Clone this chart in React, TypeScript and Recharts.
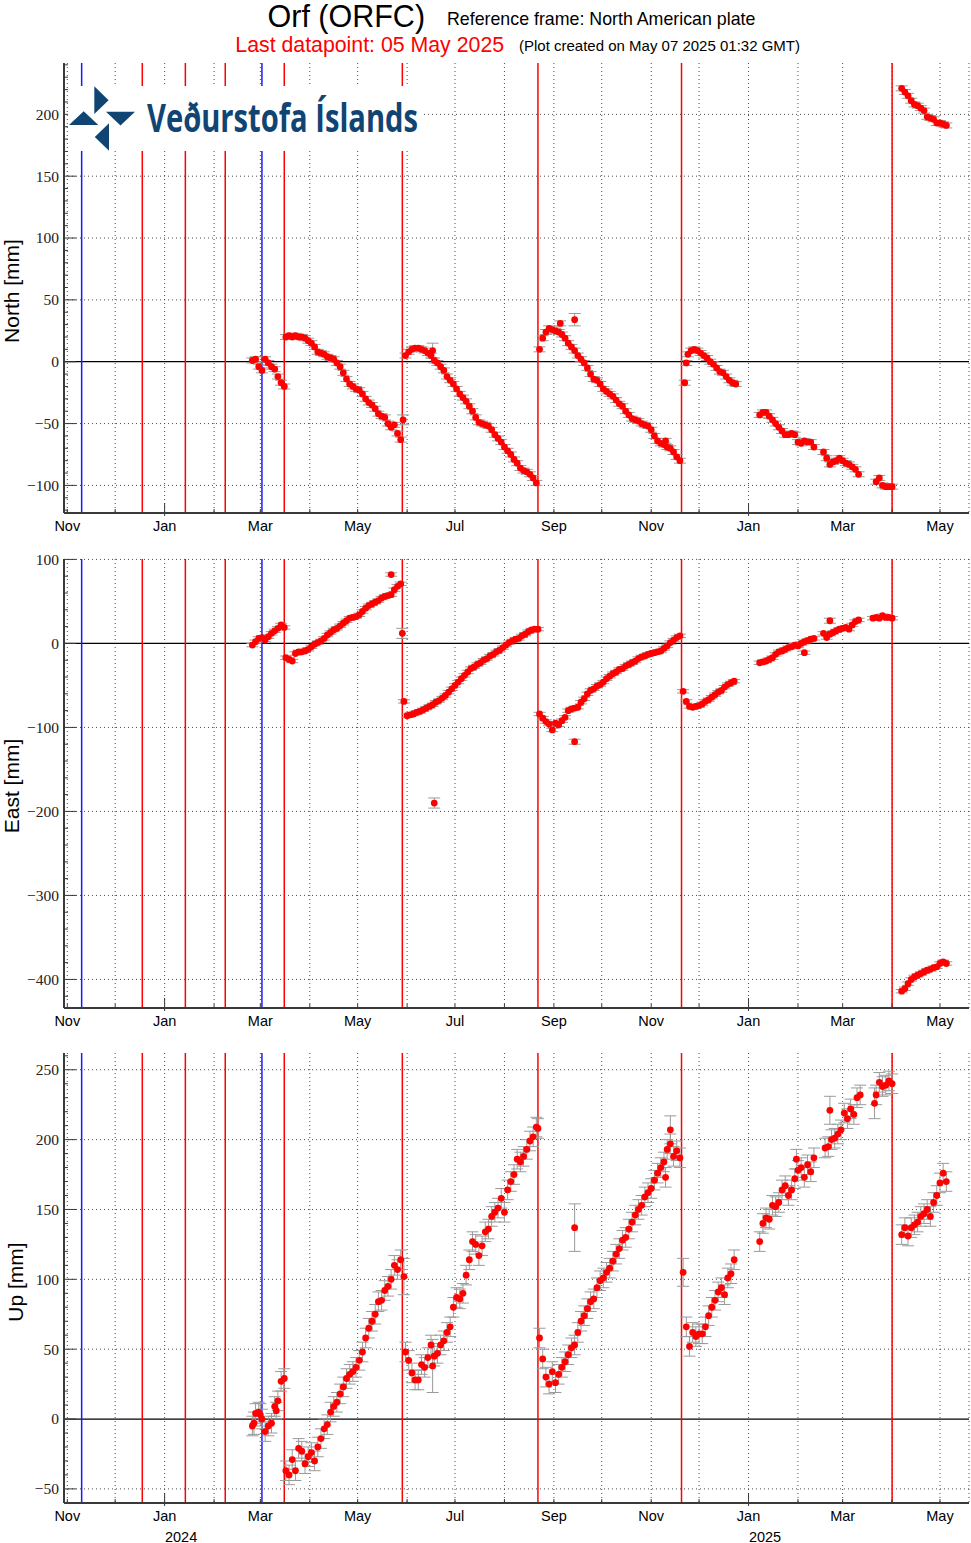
import React from 'react';
import {
  ScatterChart,
  Scatter,
  XAxis,
  YAxis,
  CartesianGrid,
  ReferenceLine,
  ErrorBar,
} from 'recharts';

// x values are days since 2023-11-01
type Segment = { start: number; step: number; err: number; values: number[] };
type Single = [number, number, number]; // day, value, error
type Point = { d: number; v: number; e: number };

const ORIGIN = Date.UTC(2023, 10, 1);
const toDay = (iso: string) => {
  const [y, m, d] = iso.split('-').map(Number);
  return (Date.UTC(y, m - 1, d) - ORIGIN) / 86400000;
};

const X_DOMAIN: [number, number] = [-2.07, 565.2];

const MONTH_TICKS = [
  '2023-11-01', '2023-12-01', '2024-01-01', '2024-02-01', '2024-03-01', '2024-04-01',
  '2024-05-01', '2024-06-01', '2024-07-01', '2024-08-01', '2024-09-01', '2024-10-01',
  '2024-11-01', '2024-12-01', '2025-01-01', '2025-02-01', '2025-03-01', '2025-04-01',
  '2025-05-01',
];
const MONTH_LABELS = [
  'Nov', '', 'Jan', '', 'Mar', '', 'May', '', 'Jul', '', 'Sep', '', 'Nov', '', 'Jan', '', 'Mar', '', 'May',
];
const YEAR_LABELS: Record<string, string> = { '2024-01-01': '2024', '2025-01-01': '2025' };

const ERUPTIONS = [
  '2023-12-18', '2024-01-14', '2024-02-08', '2024-03-16',
  '2024-05-29', '2024-08-22', '2024-11-20', '2025-04-01',
];
const INTRUSIONS = ['2023-11-10', '2024-03-02'];

// ---- North ----
const NORTH_SEGMENTS: Segment[] = [
  { start: 116, step: 2, err: 2, values: [1, 2, -4, -7, 2, -1, -4, -6, -12, -17, -20] },
  {
    start: 137, step: 2, err: 2,
    values: [20, 21, 20, 21, 20, 20, 19, 17, 15, 12, 8, 7, 6, 4, 3, 2, -1, -4, -9, -14,
      -18, -20, -22, -23, -26, -30, -33, -35, -38, -42, -44, -45, -50, -53, -51, -58, -63],
  },
  {
    start: 212, step: 2, err: 2,
    values: [5, 8, 10, 11, 11, 10, 9, 7, 5, 1, -1, -4, -7, -12, -15, -18, -22, -26, -29, -32,
      -36, -40, -45, -49, -50, -51, -52, -55, -59, -62, -65, -69, -72, -75, -79, -82, -86, -88,
      -89, -91, -94, -98],
  },
  {
    start: 296, step: 2, err: 2,
    values: [10, 19, 24, 27, 26, 25, 24, 22, 19, 15, 12, 9, 5, 2, -1, -5, -10, -14, -15, -18,
      -22, -24, -26, -28, -31, -34, -36, -40, -43, -46, -47, -48, -50, -51, -52, -55, -60, -64,
      -66, -67, -69, -70, -73, -77, -80],
  },
  { start: 389, step: 2, err: 2, values: [6, 9, 10, 9, 7, 5, 3, 0, -2, -5, -8, -9, -12, -15, -17, -18] },
  {
    start: 434, step: 2, err: 2,
    values: [-43, -41, -41, -44, -47, -50, -53, -56, -59, -59, -58, -59, -65, -66, -64, -65, -65, -69],
  },
  { start: 474, step: 2, err: 2, values: [-73, -78, -83, -81, -80, -78, -80, -82, -83, -85, -87, -91] },
  { start: 507, step: 2, err: 2, values: [-97, -94, -100, -101, -101, -101] },
  { start: 523, step: 2, err: 2, values: [221, 218, 215, 211, 208, 207, 205, 203, 198, 197, 196, 193, 193, 192, 191] },
];
const NORTH_SINGLES: Single[] = [
  [210.5, -47, 4], [229, 9, 6], [309, 31, 2], [318, 34, 5], [375, -64, 2], [387, -17, 2], [388, -1, 2],
];
const NORTH_MAJOR = [-100, -50, 0, 50, 100, 150, 200];
const NORTH_TICKS = [
  -120, -110, -100, -90, -80, -70, -60, -50, -40, -30, -20, -10, 0, 10, 20, 30, 40, 50, 60, 70,
  80, 90, 100, 110, 120, 130, 140, 150, 160, 170, 180, 190, 200, 210, 220, 230, 240,
];

// ---- East ----
const EAST_SEGMENTS: Segment[] = [
  { start: 116, step: 2, err: 2, values: [-2, 2, 6, 7, 4, 8, 12, 15, 18, 22, 19] },
  {
    start: 137, step: 2, err: 2,
    values: [-17, -19, -21, -12, -10, -10, -9, -7, -4, -1, 1, 3, 6, 10, 13, 16, 18, 21, 24, 27,
      30, 31, 32, 34, 38, 42, 45, 47, 49, 51, 54, 56, 57, 58, 64, 68, 71],
  },
  {
    start: 213, step: 2, err: 2,
    values: [-86, -85, -84, -82, -81, -79, -77, -75, -73, -70, -68, -65, -62, -58, -54, -50, -46,
      -42, -38, -34, -30, -28, -25, -23, -20, -18, -15, -13, -10, -8, -5, -2, 1, 3, 5, 6, 9, 11,
      14, 16, 17, 17],
  },
  {
    start: 296, step: 2, err: 2,
    values: [-84, -89, -93, -96, -103, -95, -97, -92, -88, -80, -78, -77, -76, -70, -66, -60, -56,
      -54, -51, -49, -46, -42, -39, -36, -34, -31, -30, -27, -25, -23, -21, -18, -16, -15, -13,
      -12, -11, -10, -9, -6, -3, 1, 4, 7, 9],
  },
  { start: 390, step: 2, err: 2, values: [-75, -76, -75, -74, -72, -69, -67, -64, -61, -58, -56, -52, -49, -47, -45] },
  { start: 434, step: 2, err: 2, values: [-23, -22, -21, -19, -17, -13, -10, -9, -7, -5, -4, -2, -3, 0, 2, 3, 5, 6] },
  { start: 474, step: 2, err: 2, values: [12, 7, 11, 13, 15, 17, 18, 19, 17, 22, 26, 28] },
  { start: 505, step: 2, err: 2, values: [30, 31, 30, 33, 31, 31, 30] },
  {
    start: 523, step: 2, err: 2,
    values: [-414, -411, -405, -400, -397, -395, -393, -391, -389, -388, -386, -385, -381, -379, -381],
  },
];
const EAST_SINGLES: Single[] = [
  [203, 82, 2], [210, 12, 6], [211, -69, 2], [230, -190, 6], [318, -117, 3],
  [386, -57, 2], [388, -69, 2], [462, -11, 2], [478, 27, 3],
];
const EAST_MAJOR = [-400, -300, -200, -100, 0, 100];
const EAST_TICKS = [
  -420, -400, -380, -360, -340, -320, -300, -280, -260, -240, -220, -200, -180, -160, -140,
  -120, -100, -80, -60, -40, -20, 0, 20, 40, 60, 80, 100,
];

// ---- Up ----
const UP_SEGMENTS: Segment[] = [
  { start: 116, step: 2, err: 7, values: [-5, 4, 5, 0, -9, -5, -3, 9, 13, 27, 29] },
  {
    start: 137, step: 2, err: 7,
    values: [-37, -40, -29, -37, -21, -23, -32, -27, -24, -30, -20, -14, -7, -4, 5, 9, 12, 18, 23,
      29, 32, 34, 37, 42, 48, 58, 65, 70, 75, 84, 85, 92, 95, 100, 110, 107, 114],
  },
  { start: 212, step: 2, err: 7, values: [48, 42, 33, 28, 28, 39, 37, 44, 53, 45, 47, 53, 56, 62] },
  {
    start: 240, step: 2, err: 7,
    values: [66, 80, 87, 86, 90, 103, 114, 127, 125, 117, 124, 134, 136, 145, 148, 151, 158, 148,
      164, 170, 175, 186, 184, 188, 193, 199, 202, 209],
  },
  {
    start: 296, step: 2, err: 7,
    values: [58, 43, 30, 25, 34, 26, 32, 37, 41, 46, 51, 53, 62, 70, 74, 79, 84, 86, 94, 99, 101,
      105, 108, 113, 118, 122, 128, 130, 136, 141, 146, 150, 153, 159, 162, 165, 171, 176, 180,
      184, 193, 197, 188, 192, 187],
  },
  { start: 388, step: 2, err: 7, values: [66, 52, 62, 59, 61, 61, 66, 74, 80, 85, 91, 94, 89, 101, 104, 114] },
  {
    start: 434, step: 2, err: 7,
    values: [127, 140, 144, 143, 153, 152, 155, 164, 167, 160, 164, 172, 178, 180, 173, 182, 177, 187],
  },
  { start: 475, step: 2, err: 7, values: [194, 195, 200, 201, 204, 207, 219, 215, 222, 218, 230, 232] },
  { start: 507, step: 2, err: 7, values: [232, 241, 238, 239, 242, 240] },
  { start: 523, step: 2, err: 7, values: [132, 137, 131, 137, 139, 141, 145, 147, 150, 145, 155, 160, 169, 176, 170] },
];
const UP_SINGLES: Single[] = [
  [117, -3, 8], [121, 3, 8], [131, 6, 6], [211, 102, 13], [229, 38, 19], [295, 208, 7],
  [318, 137, 17], [375, 173, 7], [378, 207, 10], [386, 105, 10], [457, 186, 7], [478, 221, 10],
  [506, 226, 11],
];
const UP_MAJOR = [-50, 0, 50, 100, 150, 200, 250];
const UP_TICKS = [
  -60, -50, -40, -30, -20, -10, 0, 10, 20, 30, 40, 50, 60, 70, 80, 90, 100, 110, 120, 130, 140,
  150, 160, 170, 180, 190, 200, 210, 220, 230, 240, 250, 260,
];

const buildSeries = (segments: Segment[], singles: Single[]): Point[] => {
  const pts: Point[] = [];
  segments.forEach((s) => s.values.forEach((v, i) => pts.push({ d: s.start + i * s.step, v, e: s.err })));
  singles.forEach(([d, v, e]) => pts.push({ d, v, e }));
  return pts.sort((a, b) => a.d - b.d);
};

const FRAME = '#3a3a3a';
const GRID = '#4a4a4a';
const SANS = '"Liberation Sans", Arial, Helvetica, sans-serif';
const SERIF = '"Liberation Serif", "Times New Roman", serif';
const MONTH_DAYS = MONTH_TICKS.map(toDay);

const fmt = (v: number) => (v < 0 ? `\u2212${Math.abs(v)}` : String(v));

function LeftTick(props: any) {
  const { x, y, payload, majors } = props;
  const major = majors.includes(payload.value);
  return (
    <g>
      <line x1={x} x2={x + (major ? 12 : 4)} y1={y} y2={y} stroke={FRAME} strokeWidth={1} />
      {major && (
        <text x={x - 5} y={y} dy="0.35em" textAnchor="end" fontFamily={SERIF} fontSize={15.5} fill="#222">
          {fmt(payload.value)}
        </text>
      )}
    </g>
  );
}

function RightTick(props: any) {
  const { x, y, payload, majors } = props;
  const major = majors.includes(payload.value);
  return <line x1={x - (major ? 12 : 4)} x2={x} y1={y} y2={y} stroke={FRAME} strokeWidth={1} />;
}

function BottomTick(props: any) {
  const { x, y, payload, withYear } = props;
  const i = MONTH_DAYS.indexOf(payload.value);
  const iso = MONTH_TICKS[i];
  const isJan = iso.endsWith('-01-01');
  return (
    <g>
      <line x1={x} x2={x} y1={y + (isJan ? 3 : 0)} y2={y - (isJan ? 10 : 4)} stroke={FRAME} strokeWidth={1} />
      {MONTH_LABELS[i] && (
        <text x={x} y={y + 18} textAnchor="middle" fontFamily={SANS} fontSize={14.5} fill="#000">
          {MONTH_LABELS[i]}
        </text>
      )}
      {withYear && YEAR_LABELS[iso] && (
        <text x={x + 16.5} y={y + 38.5} textAnchor="middle" fontFamily={SANS} fontSize={14.5} fill="#000">
          {YEAR_LABELS[iso]}
        </text>
      )}
    </g>
  );
}

function TopTick(props: any) {
  const { x, y, payload } = props;
  const i = MONTH_DAYS.indexOf(payload.value);
  const isJan = MONTH_TICKS[i].endsWith('-01-01');
  return <line x1={x} x2={x} y1={y - (isJan ? 10 : 0)} y2={y + (isJan ? 3 : 4)} stroke={FRAME} strokeWidth={1} />;
}

const renderDot = (p: any) => <circle cx={p.cx} cy={p.cy} r={3.4} fill="#ff0000" />;

type PanelProps = {
  top: number;
  height: number;
  marginTop: number;
  xAxisHeight: number;
  domain: [number, number];
  majors: number[];
  ticks: number[];
  data: Point[];
  topFrame?: boolean;
  withYear?: boolean;
};

function Panel({ top, height, marginTop, xAxisHeight, domain, majors, ticks, data, topFrame, withYear }: PanelProps) {
  return (
    <div style={{ position: 'absolute', left: 0, top, width: 971, height }}>
      <ScatterChart width={971} height={height} margin={{ top: marginTop, right: 2, bottom: 0, left: 0 }}>
        <CartesianGrid horizontal={false} stroke={GRID} strokeDasharray="1 3" />
        <XAxis
          dataKey="d"
          type="number"
          domain={X_DOMAIN}
          allowDataOverflow
          ticks={MONTH_DAYS}
          interval={0}
          height={xAxisHeight}
          tickSize={0}
          tickMargin={0}
          tickLine={false}
          axisLine={{ stroke: FRAME, strokeWidth: 2 }}
          tick={<BottomTick withYear={withYear} />}
        />
        {topFrame && (
          <XAxis
            xAxisId="top"
            orientation="top"
            type="number"
            domain={X_DOMAIN}
            allowDataOverflow
            ticks={MONTH_DAYS}
            interval={0}
            height={0}
            tickSize={0}
            tickMargin={0}
            tickLine={false}
            axisLine={{ stroke: FRAME, strokeWidth: 2 }}
            tick={<TopTick />}
          />
        )}
        <YAxis
          dataKey="v"
          type="number"
          domain={domain}
          allowDataOverflow
          ticks={ticks}
          interval={0}
          width={64}
          tickSize={0}
          tickMargin={0}
          tickLine={false}
          axisLine={{ stroke: FRAME, strokeWidth: 2 }}
          tick={<LeftTick majors={majors} />}
        />
        <YAxis
          yAxisId="right"
          orientation="right"
          type="number"
          domain={domain}
          allowDataOverflow
          ticks={ticks}
          interval={0}
          width={0}
          tickSize={0}
          tickMargin={0}
          tickLine={false}
          axisLine={{ stroke: FRAME, strokeWidth: 2 }}
          tick={<RightTick majors={majors} />}
        />
        {majors
          .filter((v) => v !== 0)
          .map((v) => (
            <ReferenceLine key={`g${v}`} y={v} stroke={GRID} strokeDasharray="1 3" />
          ))}
        <ReferenceLine y={0} stroke="#000" strokeWidth={1.3} />
        {INTRUSIONS.map((d) => (
          <ReferenceLine key={d} x={toDay(d)} stroke="#1a1aff" strokeWidth={1.5} />
        ))}
        {ERUPTIONS.map((d) => (
          <ReferenceLine key={d} x={toDay(d)} stroke="#ff0000" strokeWidth={1.5} />
        ))}
        <Scatter data={data} isAnimationActive={false} shape={renderDot}>
          <ErrorBar dataKey="e" direction="y" width={6} stroke="#9a9a9a" strokeWidth={1} isAnimationActive={false} />
        </Scatter>
      </ScatterChart>
    </div>
  );
}

function Overlay() {
  return (
    <svg width={971} height={1543} style={{ position: 'absolute', left: 0, top: 0, pointerEvents: 'none' }}>
      <text x={267.5} y={26.5} fontFamily={SANS} fontSize={30.5} fill="#000">Orf (ORFC)</text>
      <text x={447} y={24.5} fontFamily={SANS} fontSize={17.8} fill="#000">Reference frame: North American plate</text>
      <text x={235.3} y={51.5} fontFamily={SANS} fontSize={21.3} fill="#ff0000">Last datapoint: 05 May 2025</text>
      <text x={519} y={51} fontFamily={SANS} fontSize={15} fill="#000">(Plot created on May 07 2025 01:32 GMT)</text>

      <text transform="translate(18.5,291) rotate(-90)" textAnchor="middle" fontFamily={SANS} fontSize={21} fill="#000">North [mm]</text>
      <text transform="translate(18.5,786) rotate(-90)" textAnchor="middle" fontFamily={SANS} fontSize={21} fill="#000">East [mm]</text>
      <text transform="translate(23,1282) rotate(-90)" textAnchor="middle" fontFamily={SANS} fontSize={21} fill="#000">Up [mm]</text>

      <rect x={68} y={86} width={353} height={65} fill="#fff" />
      <g fill="#104573">
        <polygon points="94.3,86.3 94.3,114 108.6,100.2" />
        <polygon points="106,111.7 135,111.7 120.5,125.5" />
        <polygon points="69,125 98.3,125 83.7,111.3" />
        <polygon points="109,123.3 109,150.7 94.8,137" />
      </g>
      <text
        x={147}
        y={131.5}
        fontFamily='"Open Sans", "Noto Sans", sans-serif'
        fontWeight={700}
        fontSize={39}
        textLength={271}
        lengthAdjust="spacingAndGlyphs"
        fill="#104573"
      >
        Veðurstofa Íslands
      </text>
    </svg>
  );
}

export default function App() {
  const north = buildSeries(NORTH_SEGMENTS, NORTH_SINGLES);
  const east = buildSeries(EAST_SEGMENTS, EAST_SINGLES);
  const up = buildSeries(UP_SEGMENTS, UP_SINGLES);
  return (
    <div style={{ position: 'absolute', left: 0, top: 0, width: 971, height: 1543, background: '#fff' }}>
      <Panel top={0} height={540} marginTop={63} xAxisHeight={27} domain={[-122.3, 241.5]} majors={NORTH_MAJOR} ticks={NORTH_TICKS} data={north} topFrame />
      <Panel top={540} height={495} marginTop={19} xAxisHeight={27} domain={[-434, 100.5]} majors={EAST_MAJOR} ticks={EAST_TICKS} data={east} />
      <Panel top={1035} height={508} marginTop={18} xAxisHeight={40} domain={[-60.1, 262]} majors={UP_MAJOR} ticks={UP_TICKS} data={up} withYear />
      <Overlay />
    </div>
  );
}
